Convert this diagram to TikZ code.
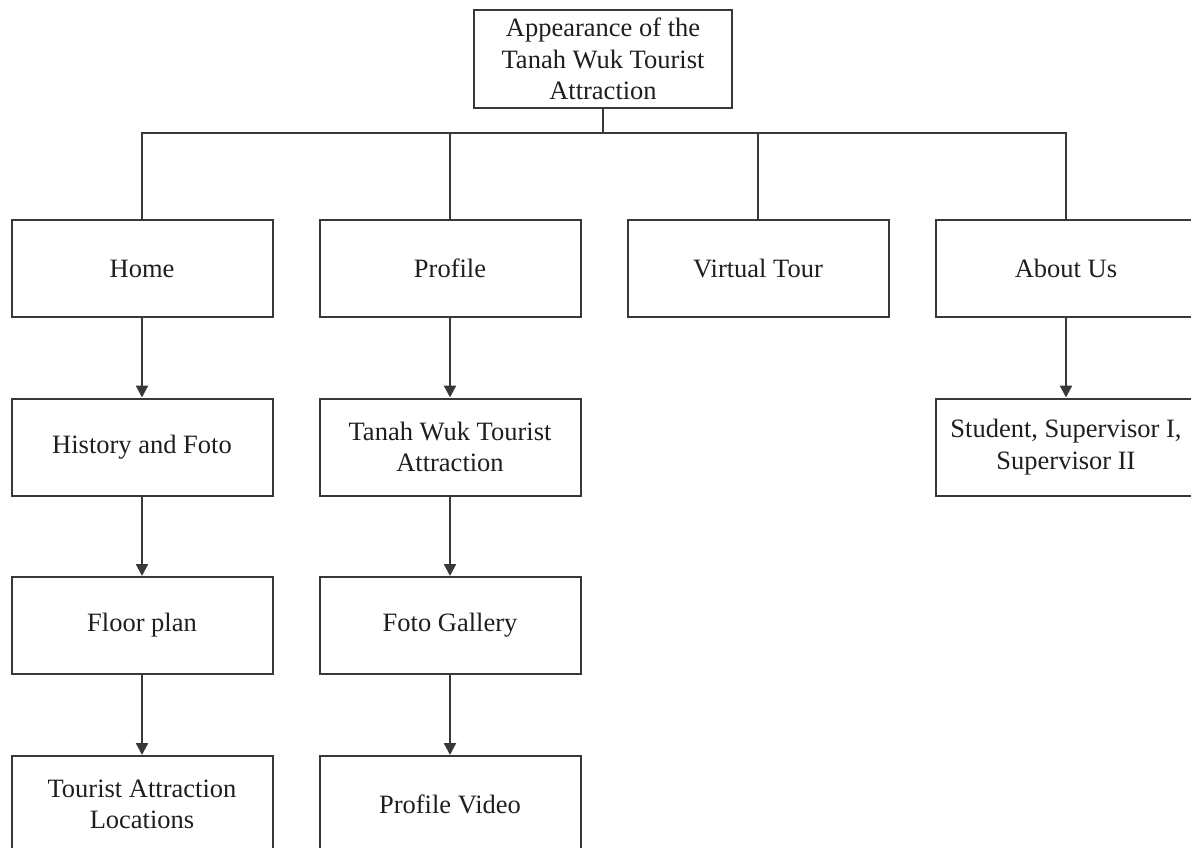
\documentclass[tikz,border=0pt]{standalone}
\usepackage{fontspec}
\setmainfont{Liberation Serif}
\usetikzlibrary{arrows.meta}
\definecolor{ln}{HTML}{383838}
\definecolor{tx}{HTML}{1E1E1E}
\tikzset{
  box/.style={draw=ln, line width=2pt, minimum width=261, minimum height=97, inner sep=0pt,
    align=center, text=tx, font=\fontsize{26.5}{31.5}\selectfont},
  conn/.style={draw=ln, line width=2.2pt},
  arr/.style={conn, -{Triangle[length=12pt,width=12pt]}}
}
\begin{document}
\begin{tikzpicture}[x=1pt,y=-1pt]
\useasboundingbox (0,0) rectangle (1191,848);
\clip (0,0) rectangle (1191,848);
\node[box, minimum width=258, minimum height=98] (top) at (603,59) {Appearance of the\\Tanah Wuk Tourist\\Attraction};
\coordinate (bus) at (603,133);
\node[box] (home) at (142,268.5) {Home};
\node[box] (profile) at (450,268.5) {Profile};
\node[box] (virtual) at (758,268.5) {Virtual Tour};
\node[box] (about) at (1066,268.5) {About Us};
\node[box] (history) at (142,447) {History and Foto};
\node[box] (tanah) at (450,447) {Tanah Wuk Tourist\\Attraction};
\node[box] (student) at (1066,447) {Student, Supervisor I,\\Supervisor II};
\node[box] (floor) at (142,625.5) {Floor plan};
\node[box] (gallery) at (450,625.5) {Foto Gallery};
\node[box] (locations) at (142,804.5) {Tourist Attraction\\Locations};
\node[box] (video) at (450,804.5) {Profile Video};
\draw[conn] (top.south) -- (bus);
\draw[conn] (home.north) -- (home.north |- bus) -- (about.north |- bus) -- (about.north);
\draw[conn] (profile.north) -- (profile.north |- bus);
\draw[conn] (virtual.north) -- (virtual.north |- bus);
\draw[arr] (home) -- (history);
\draw[arr] (history) -- (floor);
\draw[arr] (floor) -- (locations);
\draw[arr] (profile) -- (tanah);
\draw[arr] (tanah) -- (gallery);
\draw[arr] (gallery) -- (video);
\draw[arr] (about) -- (student);
\end{tikzpicture}
\end{document}
